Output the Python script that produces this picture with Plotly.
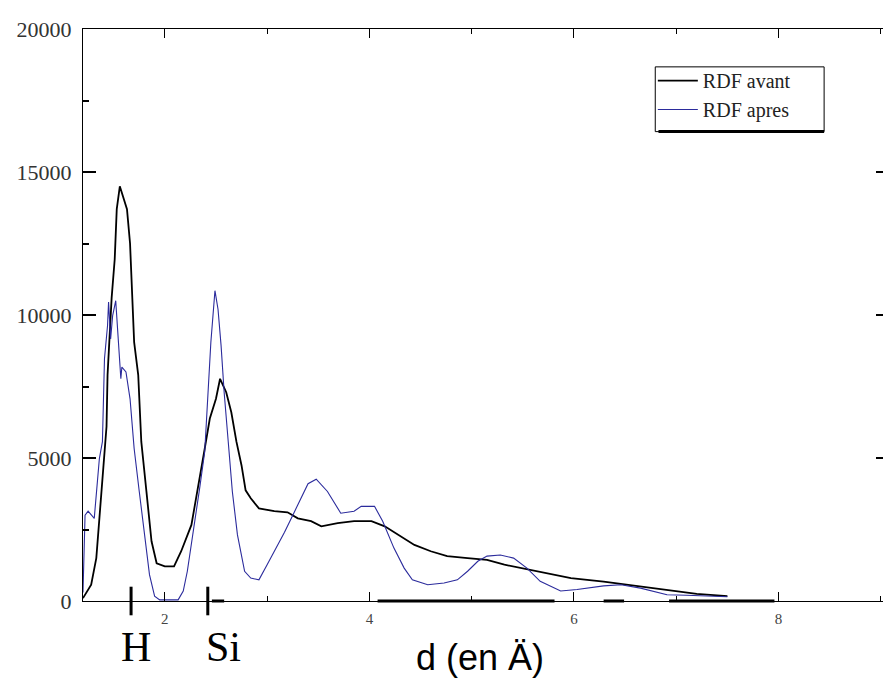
import plotly.graph_objects as go

# RDF avant (black)
x_avant = [1.20, 1.28, 1.33, 1.36, 1.39, 1.43, 1.44, 1.48, 1.51, 1.53, 1.56, 1.59, 1.63, 1.66,
           1.70, 1.74, 1.77, 1.82, 1.87, 1.92, 2.00, 2.09, 2.16, 2.26, 2.32, 2.39, 2.44, 2.50,
           2.54, 2.60, 2.65, 2.70, 2.75, 2.79, 2.84, 2.92, 3.07, 3.20, 3.30, 3.43, 3.53, 3.69,
           3.85, 4.02, 4.15, 4.28, 4.44, 4.60, 4.76, 4.96, 5.15, 5.32, 5.48, 5.74, 5.97, 6.29,
           6.62, 6.94, 7.20, 7.50]
y_avant = [100, 570, 1500, 2900, 4400, 6100, 7900, 10600, 11950, 13700, 14500, 14150, 13700, 12500,
           9050, 7900, 5570, 3830, 2090, 1320, 1210, 1210, 1740, 2660, 3830, 5330, 6380, 7070,
           7770, 7300, 6600, 5570, 4740, 3870, 3590, 3240, 3140, 3100, 2890, 2790, 2610, 2720,
           2790, 2790, 2610, 2310, 1960, 1740, 1570, 1500, 1440, 1270, 1150, 975, 800, 680,
           520, 350, 250, 170]

# RDF apres (blue)
x_apres = [1.20, 1.22, 1.25, 1.31, 1.36, 1.39, 1.41, 1.44, 1.45, 1.47, 1.49, 1.52, 1.54, 1.57,
           1.58, 1.62, 1.66, 1.70, 1.75, 1.80, 1.85, 1.90, 1.95, 2.13, 2.18, 2.22, 2.27, 2.34,
           2.39, 2.42, 2.45, 2.49, 2.52, 2.55, 2.58, 2.62, 2.66, 2.71, 2.78, 2.84, 2.92, 3.00,
           3.07, 3.17, 3.27, 3.36, 3.40, 3.48, 3.59, 3.72, 3.85, 3.92, 4.05, 4.13, 4.24, 4.34,
           4.42, 4.57, 4.73, 4.86, 4.96, 5.06, 5.15, 5.28, 5.41, 5.54, 5.67, 5.87, 6.03, 6.29,
           6.46, 6.65, 6.91, 7.10, 7.50]
y_apres = [300, 3000, 3140, 2890, 4980, 5570, 8470, 9630, 10450, 9160, 9980, 10500, 9400, 7770,
           8180, 8010, 7070, 5330, 3830, 2310, 920, 170, 40, 40, 350, 1040, 2190, 3930,
           5220, 6970, 9050, 10850, 10200, 8930, 7300, 5570, 3830, 2310, 1040, 800, 740, 1270,
           1740, 2400, 3140, 3830, 4100, 4260, 3830, 3070, 3140, 3310, 3310, 2790, 1850, 1150,
           740, 570, 630, 740, 1040, 1390, 1570, 1610, 1500, 1150, 690, 350, 400, 530,
           570, 450, 220, 200, 150]

x_ticks = [2, 4, 6, 8]
y_ticks = [0, 5000, 10000, 15000, 20000]

atom_labels = ["H", "Si"]
atom_mark_x = [1.67, 2.42]
atom_label_x = [1.72, 2.57]

fig = go.Figure()
fig.add_trace(go.Scatter(x=x_avant, y=y_avant, mode="lines", name="RDF avant",
                         line=dict(color="black", width=1.8)))
fig.add_trace(go.Scatter(x=x_apres, y=y_apres, mode="lines", name="RDF apres",
                         line=dict(color="#2b2b9c", width=1.1)))

serif = "Liberation Serif, Times New Roman, serif"

fig.update_layout(
    width=891, height=679,
    margin=dict(l=75, r=9, t=19, b=86),
    paper_bgcolor="white", plot_bgcolor="white",
    showlegend=True,
    legend=dict(x=0.707, y=0.944, xanchor="left", yanchor="top",
                bgcolor="rgba(0,0,0,0)", borderwidth=0,
                font=dict(family=serif, size=20, color="#222"),
                tracegroupgap=0, itemwidth=40),
    xaxis=dict(range=[1.2, 9.08], tickvals=x_ticks, ticktext=[str(v) for v in x_ticks],
               ticks="inside", ticklen=9, tickwidth=1, tickcolor="black",
               showline=True, linecolor="black", linewidth=1, mirror="ticks",
               showgrid=False, zeroline=False, ticklabelstandoff=4,
               minor=dict(ticks="inside", ticklen=5, dtick=1, tick0=0, tickcolor="black", showgrid=False),
               tickfont=dict(family=serif, size=15, color="#444")),
    yaxis=dict(range=[0, 20000], tickvals=y_ticks, ticktext=[str(v) for v in y_ticks],
               ticks="inside", ticklen=13, tickwidth=1.5, tickcolor="black",
               showline=True, linecolor="black", linewidth=1, mirror="ticks",
               showgrid=False, zeroline=False, ticklabelstandoff=6,
               minor=dict(ticks="inside", ticklen=6, dtick=2500, tick0=0, tickcolor="black", showgrid=False),
               tickfont=dict(family=serif, size=22, color="#333")),
)

# legend frame with a shadow on the bottom edge
fig.add_shape(type="rect", xref="paper", yref="paper", x0=0.710, x1=0.9195, y0=0.8206, y1=0.9338,
              line=dict(color="black", width=1), fillcolor="white", layer="below")
fig.add_shape(type="line", xref="paper", yref="paper", x0=0.714, x1=0.9195, y0=0.8206, y1=0.8206,
              line=dict(color="black", width=3))

# marks for H and Si below axis
for xv in atom_mark_x:
    fig.add_shape(type="line", xref="x", yref="paper", x0=xv, x1=xv, y0=-0.025, y1=0.025,
                  line=dict(color="black", width=3))
for lab, xv in zip(atom_labels, atom_label_x):
    fig.add_annotation(x=xv, xref="x", y=-0.08, yref="paper", text=lab, showarrow=False,
                       yanchor="middle", font=dict(family=serif, size=42, color="black"))

# thick segments on the bottom axis (scan artefacts)
for a, b in [(2.46, 2.58), (4.08, 5.81), (6.29, 6.49), (6.93, 7.96)]:
    fig.add_shape(type="line", xref="x", yref="paper", x0=a, x1=b, y0=0, y1=0,
                  line=dict(color="black", width=3))

fig.add_annotation(x=0.492, xref="paper", y=-0.099, yref="paper", text="d (en Ä)",
                   showarrow=False, yanchor="middle", xanchor="center",
                   font=dict(family="Liberation Sans, Arial, sans-serif", size=36, color="black"))

fig.write_html("out.html")
